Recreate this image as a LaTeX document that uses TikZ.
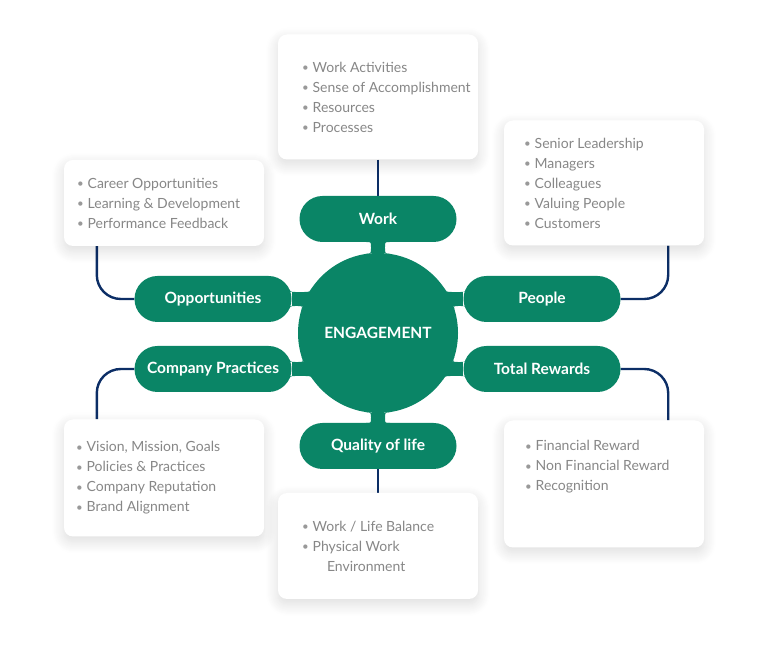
\documentclass[tikz,border=0pt]{standalone}
\usepackage{fontspec}
\setmainfont{Lato}
\usepackage{tikz}
\usetikzlibrary{positioning,shadows.blur,backgrounds}
\definecolor{verde}{HTML}{0A8566}
\definecolor{marino}{HTML}{0C2E66}
\definecolor{gris}{HTML}{878787}
\newcommand{\punto}{{\color{gris!85}\fontsize{11.5}{11}\selectfont\raisebox{0.6pt}{•}}\hspace{4pt}}

\begin{document}
\begin{tikzpicture}[
  x=1pt, y=1pt,
  font=\fontsize{14}{20}\selectfont,
  pill/.style={rectangle, rounded corners=23pt, fill=verde, text=white, minimum width=157pt, minimum height=46pt, font=\fontsize{15.5}{16}\selectfont\bfseries},
  centro/.style={circle, fill=verde, text=white, minimum size=160pt, inner sep=0pt, font=\fontsize{15.5}{16}\selectfont\bfseries},
  tarjeta/.style={rectangle, rounded corners=9pt, fill=white, minimum width=200pt, blur shadow={shadow xshift=0pt, shadow yshift=-5pt, shadow blur radius=12pt, shadow blur steps=12, shadow opacity=14}},
  lista/.style={align=left, inner sep=0pt, text=gris, font=\fontsize{14}{20}\selectfont},
  cuello/.style={draw=verde, line width=14pt},
  filete/.style={fill=verde},
  enlace/.style={draw=marino, line width=2.4pt, rounded corners=24pt}
]
\useasboundingbox (0,0) rectangle (770,655);
\node[centro] (eng) at (378,322) {ENGAGEMENT};
\node[pill] (work) at (378,436) {Work};
\node[pill] (quality) at (378,209) {Quality of life};
\node[pill] (opp) at (213,356) {Opportunities};
\node[pill] (people) at (542,356) {People};
\node[pill] (comp) at (213,286) {Company Practices};
\node[pill] (rewards) at (542,286) {Total Rewards};
\node[tarjeta, minimum height=125pt] (workbox) at (378,558) {};
\node[tarjeta, minimum height=86pt] (oppbox) at (164,452) {};
\node[tarjeta, minimum height=125pt] (peoplebox) at (604,472) {};
\node[tarjeta, minimum height=117pt] (compbox) at (164,177) {};
\node[tarjeta, minimum height=127pt] (rewbox) at (604,171) {};
\node[tarjeta, minimum height=106pt] (qualbox) at (378,109) {};
\node[lista, anchor=west] (workitems) at ([xshift=24pt]workbox.west) {\punto Work Activities\\ \punto Sense of Accomplishment\\ \punto Resources\\ \punto Processes};
\node[lista, anchor=west] (oppitems) at ([xshift=13pt]oppbox.west) {\punto Career Opportunities\\ \punto Learning \& Development\\ \punto Performance Feedback};
\node[lista, anchor=west] (peopleitems) at ([xshift=20pt]peoplebox.west) {\punto Senior Leadership\\ \punto Managers\\ \punto Colleagues\\ \punto Valuing People\\ \punto Customers};
\node[lista, anchor=west] (compitems) at ([xshift=12pt]compbox.west) {\punto Vision, Mission, Goals\\ \punto Policies \& Practices\\ \punto Company Reputation\\ \punto Brand Alignment};
\node[lista, anchor=north west] (rewitems) at ([xshift=21pt,yshift=-20pt]rewbox.north west) {\punto Financial Reward\\ \punto Non Financial Reward\\ \punto Recognition};
\node[lista, anchor=west] (qualitems) at ([xshift=24pt]qualbox.west) {\punto Work / Life Balance\\ \punto Physical Work\\ \hspace*{25pt}Environment};
\begin{scope}[on background layer]
% cuellos hacia el centro
\draw[cuello] (work) -- (eng);
\draw[cuello] (quality) -- (eng);
\draw[cuello] (opp) -- (opp -| eng);
\draw[cuello] (people) -- (people -| eng);
\draw[cuello] (comp) -- (comp -| eng);
\draw[cuello] (rewards) -- (rewards -| eng);
% filetes: esquina / extremo a / extremo b
\foreach \p/\a/\b in {
  {371,413}/{366,413}/{371,408}, {385,413}/{390,413}/{385,408},
  {371,401.7}/{366,401.1}/{371,406.7}, {385,401.7}/{390,401.1}/{385,406.7},
  {371,232}/{366,232}/{371,237}, {385,232}/{390,232}/{385,237},
  {371,242.3}/{366,242.9}/{371,237.3}, {385,242.3}/{390,242.9}/{385,237.3},
  {290.4,363}/{288.1,368}/{295.4,363}, {290.4,349}/{288.1,344}/{295.4,349},
  {309.3,363}/{311.9,367}/{304.3,363}, {302.7,349}/{301.1,344}/{297.7,349},
  {290.4,293}/{288.1,298}/{295.4,293}, {290.4,279}/{288.1,274}/{295.4,279},
  {303.4,293}/{301.7,298}/{298.4,293}, {310.5,279}/{313.3,275}/{305.5,279},
  {465.6,363}/{467.9,368}/{460.6,363}, {465.6,349}/{467.9,344}/{460.6,349},
  {446.7,363}/{444.1,367}/{451.7,363}, {453.3,349}/{454.9,344}/{458.3,349},
  {465.6,293}/{467.9,298}/{460.6,293}, {465.6,279}/{467.9,274}/{460.6,279},
  {452.6,293}/{454.3,298}/{457.6,293}, {445.5,279}/{442.7,275}/{450.5,279}}
  \fill[filete] (\a) .. controls (\p) .. (\b) -- (\p) -- cycle;
% enlaces a las tarjetas
\draw[enlace] (workbox.south) -- (work.north);
\draw[enlace] (quality.south) -- (qualbox.north);
\draw[enlace] ([xshift=33pt]oppbox.south west) |- (opp.west);
\draw[enlace] ([xshift=-36pt]peoplebox.south east) |- (people.east);
\draw[enlace] (comp.west) -| ([xshift=33pt]compbox.north west);
\draw[enlace] (rewards.east) -| ([xshift=-36pt]rewbox.north east);
\end{scope}
\end{tikzpicture}
\end{document}
